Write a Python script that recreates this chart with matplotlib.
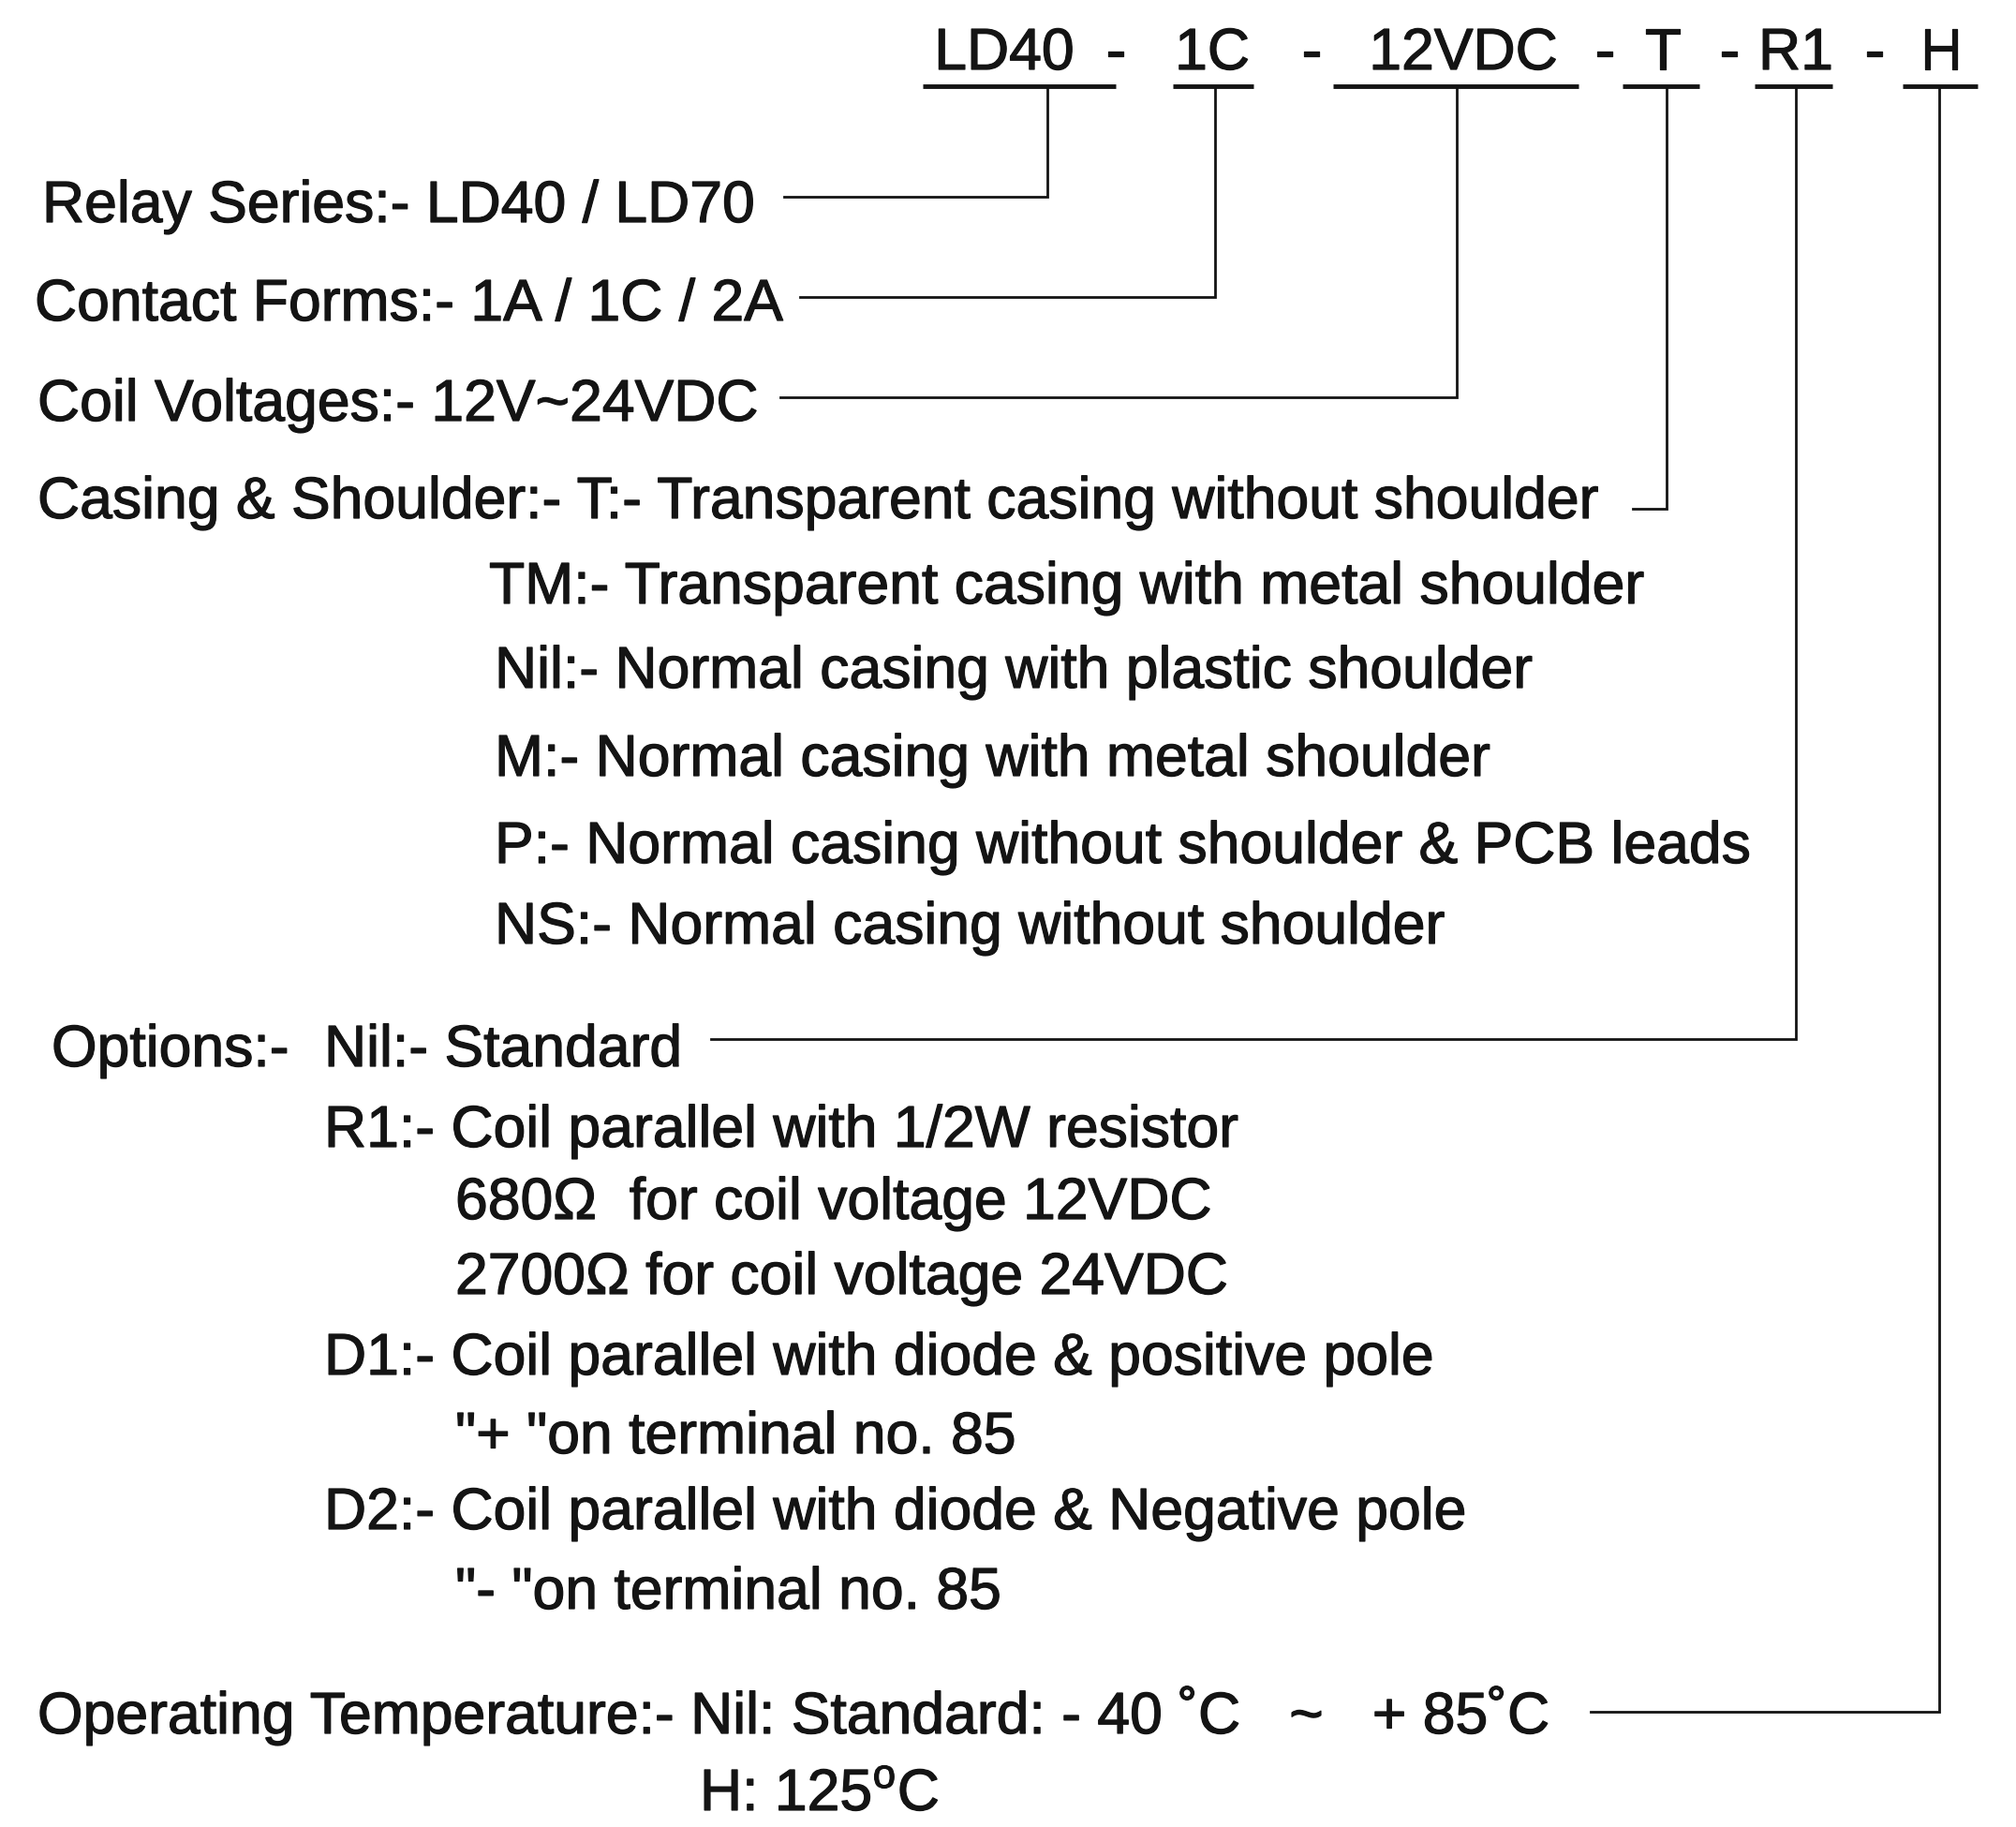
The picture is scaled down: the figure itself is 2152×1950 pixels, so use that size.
import matplotlib
matplotlib.use("Agg")
import matplotlib.pyplot as plt
import matplotlib.patheffects as pe

plt.rcParams['font.family'] = ['Liberation Sans', 'DejaVu Sans']
plt.rcParams['mathtext.fontset'] = 'custom'
plt.rcParams['mathtext.rm'] = 'Liberation Sans'

W, H = 2152, 1950
FS = 45.0
INK = '#141414'

# ---- header code parts ----
code_parts = ["LD40", "1C", "12VDC", "T", "R1", "H"]
code_centers = [1072, 1294, 1562, 1775, 1917, 2072]
underline_spans = [(985, 1191), (1252, 1338), (1423, 1685), (1732, 1814), (1873, 1956), (2031, 2111)]
dash_x = [1191, 1400, 1713, 1846, 2001]

# ---- descriptive lines: (x, y-center, text) ----
lines = [
    (45, 215, "Relay Series:- LD40 / LD70"),
    (37, 320, "Contact Forms:- 1A / 1C / 2A"),
    (40, 427, "Coil Voltages:- 12V~24VDC"),
    (40, 531, "Casing & Shoulder:- T:- Transparent casing without shoulder"),
    (522, 622, "TM:- Transparent casing with metal shoulder"),
    (528, 712, "Nil:- Normal casing with plastic shoulder"),
    (528, 806, "M:- Normal casing with metal shoulder"),
    (528, 899, "P:- Normal casing without shoulder & PCB leads"),
    (528, 985, "NS:- Normal casing without shoulder"),
    (55, 1116, "Options:-"),
    (346, 1116, "Nil:- Standard"),
    (346, 1202, "R1:- Coil parallel with 1/2W resistor"),
    (486, 1279, "680Ω  for coil voltage 12VDC"),
    (486, 1359, "2700Ω for coil voltage 24VDC"),
    (346, 1445, "D1:- Coil parallel with diode & positive pole"),
    (486, 1529, "\"+ \"on terminal no. 85"),
    (346, 1610, "D2:- Coil parallel with diode & Negative pole"),
    (486, 1695, "\"- \"on terminal no. 85"),
    (40, 1828, "Operating Temperature:- Nil: Standard: - 40 ˚C   ~   + 85˚C"),
    (747, 1910, "H: 125$^{\\mathrm{o}}$C"),
]

# ---- connectors: (vertical x, bottom y, horizontal end x) ----
connectors = [
    (1118, 210, 837),
    (1297, 317, 854),
    (1555, 424, 833),
    (1779, 543, 1743),
    (1917, 1109, 759),
    (2070, 1827, 1698),
]
underline_y = 92

fig = plt.figure(figsize=(W / 100, H / 100), dpi=100)
ax = fig.add_axes([0, 0, 1, 1])
ax.set_xlim(0, W)
ax.set_ylim(H, 0)
ax.axis('off')
fig.patch.set_facecolor('white')

CAP = 22  # half cap height in px
bold = [pe.withStroke(linewidth=0.9, foreground=INK)]

for name, cx in zip(code_parts, code_centers):
    ax.text(cx, 52 + CAP, name, ha='center', va='baseline', fontsize=FS, color=INK, path_effects=bold)
for dx in dash_x:
    ax.text(dx, 52 + CAP, "-", ha='center', va='baseline', fontsize=FS, color=INK, path_effects=bold)
for (x0, x1) in underline_spans:
    ax.plot([x0, x1], [underline_y, underline_y], color=INK, lw=3.5, solid_capstyle='butt')

for x, y, t in lines:
    ax.text(x, y + CAP, t, ha='left', va='baseline', fontsize=FS, color=INK, path_effects=bold)

for vx, by, hx in connectors:
    ax.plot([vx, vx, hx], [underline_y, by, by], color=INK, lw=2.0, solid_joinstyle='miter')

fig.savefig("out.png", dpi=100, facecolor='white')
